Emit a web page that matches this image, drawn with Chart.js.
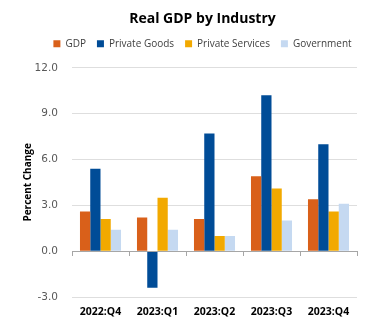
<!DOCTYPE html>
<html>
<head>
    <title>Real GDP by Industry</title>
    <script src="https://cdn.jsdelivr.net/npm/chart.js@4"></script>
    <style>
        html, body {
            margin: 0;
            padding: 0;
            background: #fff;
        }
    </style>
</head>
<body>
<canvas id="gdp-chart" width="368" height="329"></canvas>

<script>
    const quarters = ['2022:Q4', '2023:Q1', '2023:Q2', '2023:Q3', '2023:Q4'];
    const gdp = [2.6, 2.2, 2.1, 4.9, 3.4];
    const privateGoods = [5.4, -2.4, 7.7, 10.2, 7.0];
    const privateServices = [2.1, 3.5, 1.0, 4.1, 2.6];
    const government = [1.4, 1.4, 1.0, 2.0, 3.1];
    const yTicks = [-3, 0, 3, 6, 9, 12];

    // small tick marks hanging off the zero line, between the quarters
    const zeroTicks = {
        id: 'zeroTicks',
        afterDatasetsDraw(chart) {
            const ctx = chart.ctx;
            const area = chart.chartArea;
            const y0 = Math.round(chart.scales.y.getPixelForValue(0));
            const n = quarters.length;
            ctx.save();
            ctx.strokeStyle = '#a6a6a6';
            ctx.lineWidth = 1;
            ctx.beginPath();
            ctx.moveTo(area.left, y0 + 0.5);
            ctx.lineTo(area.right, y0 + 0.5);
            for (let i = 0; i <= n; i++) {
                const x = Math.round(area.left + i * (area.right - area.left) / n) + 0.5;
                ctx.moveTo(x, y0);
                ctx.lineTo(x, y0 + 5);
            }
            ctx.stroke();
            ctx.restore();
        }
    };

    // title and legend sit a bit right of the canvas centre, like the original
    // and there is some extra air under the legend
    const headerTweaks = {
        id: 'headerTweaks',
        beforeInit(chart) {
            const fit = chart.legend.fit;
            chart.legend.fit = function () {
                fit.call(this);
                this.height += 9;
            };
        },
        afterLayout(chart) {
            const dx = chart.chartArea.left / 3;
            [chart.titleBlock, chart.legend].forEach(box => {
                box.left += dx;
                box.right += dx;
            });
        }
    };

    const ctx = document.getElementById('gdp-chart').getContext('2d');
    const chart = new Chart(ctx, {
        type: 'bar',
        data: {
            labels: quarters,
            datasets: [{
                label: 'GDP',
                data: gdp,
                backgroundColor: '#d9601a'
            }, {
                label: 'Private Goods',
                data: privateGoods,
                backgroundColor: '#004c97'
            }, {
                label: 'Private Services',
                data: privateServices,
                backgroundColor: '#f2a900'
            }, {
                label: 'Government',
                data: government,
                backgroundColor: '#c5d9f1'
            }]
        },
        options: {
            responsive: false,
            animation: false,
            devicePixelRatio: 1,
            categoryPercentage: 0.72,
            barPercentage: 1.0,
            layout: {
                padding: {left: 0, right: 11, top: 0, bottom: 10}
            },
            plugins: {
                title: {
                    display: true,
                    text: 'Real GDP by Industry',
                    color: '#000',
                    font: {family: 'Open Sans', size: 14, weight: 'bold'},
                    padding: {top: 11, bottom: 0}
                },
                legend: {
                    display: true,
                    labels: {
                        boxWidth: 7,
                        boxHeight: 7,
                        padding: 11,
                        color: '#404040',
                        font: {family: 'Open Sans', size: 10}
                    }
                },
                tooltip: {enabled: false}
            },
            scales: {
                x: {
                    grid: {display: false, drawTicks: false},
                    border: {display: false},
                    afterFit: axis => {
                        axis.height = 22;
                    },
                    ticks: {
                        color: '#000',
                        padding: 9,
                        maxRotation: 0,
                        font: {family: 'Open Sans', size: 10.5, weight: 'bold'}
                    }
                },
                y: {
                    min: -3,
                    max: 12,
                    afterBuildTicks: axis => {
                        axis.ticks = yTicks.map(v => ({value: v}));
                    },
                    afterFit: axis => {
                        axis.width = 72;
                    },
                    border: {display: false},
                    grid: {
                        drawTicks: false,
                        color: c => c.tick && c.tick.value === 0 ? 'rgba(0,0,0,0)' : '#dedede'
                    },
                    ticks: {
                        color: '#595959',
                        padding: 14,
                        font: {family: 'DejaVu Sans', size: 10.5},
                        callback: v => v.toFixed(1)
                    },
                    title: {
                        display: true,
                        text: 'Percent Change',
                        color: '#000',
                        font: {family: 'Open Sans', size: 10, weight: 'bold'},
                        padding: {top: 22, bottom: 0}
                    }
                }
            }
        },
        plugins: [zeroTicks, headerTweaks]
    });
</script>
</body>
</html>
